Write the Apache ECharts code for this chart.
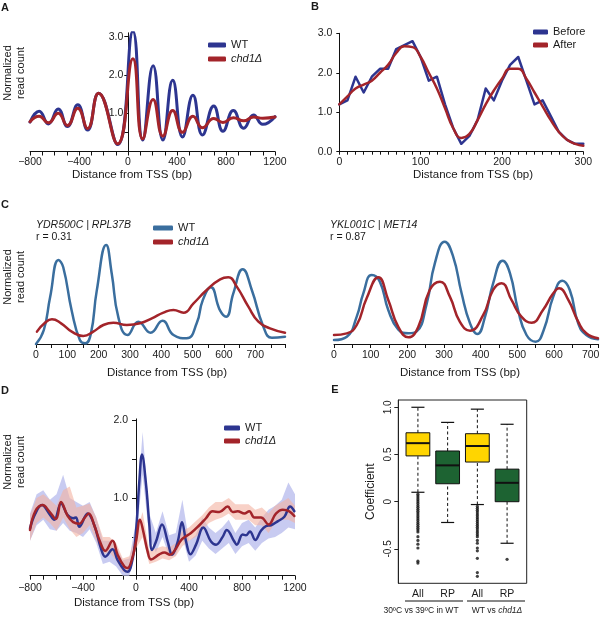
<!DOCTYPE html>
<html><head><meta charset="utf-8">
<script src="https://cdn.jsdelivr.net/npm/echarts@6/dist/echarts.min.js"></script>
<style>html,body{margin:0;padding:0;background:#fff}#c{width:600px;height:618px}</style>
</head><body><div id="c"></div>
<script>
// ---------- Panel A ----------
const aX    = [-800,-725,-650,-570,-495,-410,-330,-240,-85,40,120,205,285,365,445,530,608,700,775,860,945,1025,1100,1200];
const aWT   = [0.77,1.05,0.72,1.11,0.65,1.22,0.56,1.52,0.18,3.14,0.3,2.24,0.3,1.86,0.38,1.47,0.43,1.19,0.53,1.07,0.61,0.95,0.71,0.91];
const aChd1 = [0.78,0.92,0.75,1.0,0.68,1.13,0.6,1.52,0.2,2.42,0.33,1.36,0.4,1.07,0.5,0.92,0.62,0.86,0.76,0.88,0.8,0.9,0.87,0.9];
const aXLabels = [-800,-400,0,400,800,1200];
const aYLabels = [1,2,3];
const aYTicks = [0.5,1,2,3];

// ---------- Panel B ----------
const bX      = [0,10,20,30,40,50,60,70,80,90,100,110,120,130,140,150,160,170,180,190,200,210,220,230,240,250,260,270,280,290,300];
const bBefore = [1.2,1.3,1.9,1.5,1.9,2.1,2.1,2.6,2.7,2.8,2.4,1.8,1.9,1.2,0.6,0.2,0.4,0.8,1.6,1.3,1.8,2.2,2.4,1.8,1.2,1.3,0.9,0.5,0.3,0.2,0.2];
const bAfter  = [1.2,1.4,1.6,1.7,1.8,2.0,2.2,2.5,2.67,2.65,2.4,2.0,1.6,1.1,0.6,0.35,0.45,0.8,1.2,1.55,1.85,2.1,2.1,1.85,1.5,1.15,0.8,0.5,0.3,0.2,0.15];
const bXLabels = [0,100,200,300];
const bYLabels = [0,1,2,3];

// ---------- Panel C (left: YDR500C | RPL37B) ----------
const cLWTX = [0,25,45,72,87,114,140,157,175,194,224,242,263,292,327,366,404,439,481,513,532,558,588,607,630,660,689,726,753,795];
const cLWT  = [0,4.2,14,25.2,23,10,1.2,0.2,3,16,29.7,21,8,2.7,6.7,3.4,7,2.7,1.7,6.2,13,17,10,8.2,15.2,22.4,16.2,5.2,1.9,2.2];
const cLChX = [3,27,51,80,114,151,183,215,247,290,332,370,407,439,471,503,545,588,614,641,678,710,747,795];
const cLCh  = [3.7,6.2,7.4,6.2,3.7,2.4,3.7,5.7,6.4,5.7,6.2,7.7,9.4,10.2,9.4,12.2,16.2,19.4,20,17.2,11.2,6.7,4.7,3.4];
const cXLabels = [0,100,200,300,400,500,600,700];

// ---------- Panel C (right: YKL001C | MET14) ----------
const cRWTX = [0,35,62,80,103,125,148,175,203,225,253,275,302,325,348,371,391,412,434,460,480,502,525,550,572,598,623,643,666,688,720];
const cRWT  = [1.2,2.2,8.2,15.2,20.7,18.7,10.2,4.4,3.2,3.7,12.2,24.2,30.7,26.2,15.2,6.2,3,8.2,18.2,25,21.2,10.2,2.7,0.7,4.2,14.2,19,16.2,6.2,2.7,1.4];
const cRChX = [0,35,62,89,121,148,175,203,230,261,289,316,343,371,407,434,457,484,511,539,570,598,614,639,666,688,720];
const cRCh  = [2.7,3.2,5.7,13.7,20,13.2,5.2,2,5.2,16.2,18.7,14.2,6.7,4,8.7,16.2,18.2,13.2,8.2,6.4,10.2,15.2,16.7,13.2,6.7,3.2,1.7];

// ---------- Panel D ----------
const dWTX = [-800,-760,-710,-655,-617,-566,-516,-474,-453,-428,-365,-315,-264,-232,-177,-139,-88,-63,-25,0,25,45,76,101,121,151,197,239,272,315,347,378,410,453,508,566,604,654,685,742,760,805,830,860,900,943,981,1019,1069,1120,1163,1195];
const dWT  = [0.61,0.8,0.91,0.8,0.72,0.93,0.78,0.74,0.75,0.63,0.8,0.65,0.35,0.245,0.34,0.2,0.07,0.05,0.22,0.57,1.21,1.56,1.17,0.65,0.33,0.44,0.66,0.44,0.27,0.44,0.69,0.44,0.275,0.4,0.62,0.44,0.4,0.5,0.59,0.44,0.4,0.53,0.52,0.57,0.46,0.58,0.64,0.65,0.7,0.76,0.89,0.83];
const dChX = [-800,-760,-704,-655,-604,-566,-516,-474,-428,-390,-357,-315,-272,-232,-177,-139,-88,-63,-25,0,30,55,88,113,176,214,257,290,347,415,478,528,578,629,692,730,767,818,855,893,943,1001,1056,1107,1157,1195];
const dCh  = [0.59,0.83,0.91,0.83,0.73,0.95,0.77,0.69,0.67,0.74,0.8,0.65,0.44,0.32,0.45,0.27,0.12,0.1,0.245,0.44,0.72,0.57,0.31,0.21,0.275,0.3,0.27,0.32,0.47,0.55,0.65,0.74,0.83,0.82,0.89,0.82,0.83,0.8,0.83,0.75,0.75,0.66,0.8,0.85,0.83,0.77];
const dBandX = [-800,-750,-700,-650,-600,-550,-500,-450,-400,-350,-300,-250,-200,-150,-100,-50,0,50,100,150,200,250,300,350,400,450,500,550,600,650,700,750,800,850,900,950,1000,1050,1100,1150,1200];
const dWTLo = [0.45,0.65,0.72,0.6,0.58,0.68,0.58,0.55,0.5,0.6,0.42,0.15,0.18,0.12,0.0,0.0,0.45,1.3,0.5,0.3,0.5,0.25,0.26,0.5,0.18,0.26,0.45,0.35,0.28,0.35,0.42,0.28,0.38,0.42,0.32,0.42,0.48,0.5,0.55,0.62,0.6];
const dWTHi = [0.8,1.05,1.1,0.98,1.05,1.3,1.0,0.95,0.9,0.95,0.75,0.45,0.45,0.38,0.2,0.22,0.7,1.85,0.8,0.55,0.83,0.52,0.55,0.98,0.45,0.52,0.75,0.62,0.55,0.62,0.72,0.55,0.68,0.72,0.62,0.75,0.85,0.9,0.98,1.2,1.05];
const dChLo = [0.45,0.68,0.75,0.68,0.58,0.75,0.6,0.5,0.55,0.65,0.45,0.28,0.3,0.2,0.05,0.05,0.35,0.5,0.15,0.18,0.22,0.2,0.25,0.38,0.45,0.5,0.58,0.68,0.72,0.75,0.8,0.72,0.72,0.72,0.65,0.65,0.55,0.68,0.72,0.72,0.68];
const dChHi = [0.78,1.0,1.05,0.98,0.9,1.1,1.15,0.88,0.9,0.93,0.75,0.5,0.5,0.42,0.22,0.25,0.55,0.82,0.32,0.35,0.38,0.36,0.42,0.58,0.62,0.7,0.78,0.88,0.95,0.95,1.0,0.92,0.92,0.92,0.85,0.88,0.8,0.9,0.95,1.0,0.9];
const dYLabels = [1,2];
const dYTicks = [0.5,1,1.5,2];

// ---------- Panel E ----------
const eCats  = ['All','RP','All','RP'];
const eLow   = [0.10,-0.22,-0.03,-0.44];
const eQ1    = [0.485,0.19,0.42,0.0];
const eMed   = [0.62,0.385,0.59,0.2];
const eQ3    = [0.73,0.537,0.72,0.345];
const eHigh  = [1.0,0.84,0.98,0.82];
const eOut1  = [0.08,0.06,0.04,0.02,0.0,-0.02,-0.04,-0.06,-0.08,-0.1,-0.12,-0.14,-0.16,-0.18,-0.2,-0.22,-0.24,-0.26,-0.28,-0.3,-0.32,-0.37,-0.41,-0.45,-0.49,-0.63,-0.65];
const eOut3  = [-0.05,-0.07,-0.09,-0.11,-0.13,-0.15,-0.17,-0.19,-0.21,-0.23,-0.25,-0.27,-0.29,-0.31,-0.33,-0.35,-0.37,-0.41,-0.44,-0.49,-0.52,-0.6,-0.75,-0.79];
const eOut4  = [-0.61];
const eYLabels = [-0.5,0,0.5,1];
const eGroups = ['30ºC vs 39ºC in WT','WT vs {i|chd1Δ}'];

// ---------- styles ----------
const FONT = '"Liberation Sans", Arial, Helvetica, sans-serif';
const NAVY = '#2D3590', RED = '#A3242A', STEEL = '#3A6E9E';
const TXT = '#1a1a1a';
const boxFill = {All:'#FFD500', RP:'#1D6332'};

const zip = (xs, ys) => xs.map((x,i)=>[x, ys[i]]);
const minus = v => (v < 0 ? '\u2212' + (-v) : String(v));
const legendFmt = n => { const s = n.split('|')[0]; return s.indexOf('chd1') === 0 ? '{i|' + s + '}' : s; };

function legend(names, left, top, iw, gap) {
  return {
    data: names, left: left, top: top, orient: 'vertical', icon: 'roundRect',
    itemWidth: iw, itemHeight: 5, itemGap: gap, selectedMode: false, padding: 0,
    formatter: legendFmt,
    textStyle: {fontSize: 11, fontFamily: FONT, color: TXT, rich: {i: {fontStyle: 'italic', fontSize: 11, fontFamily: FONT, color: TXT}}}
  };
}
const axLine = {show: true, onZero: false, lineStyle: {color: '#111', width: 1}};
function xAx(idx, min, max, interval, labels, fmt, margin, tickLen) {
  return {type: 'value', gridIndex: idx, min: min, max: max, interval: interval,
    axisLine: axLine, splitLine: {show: false},
    axisTick: {show: true, length: tickLen, lineStyle: {color: '#111'}},
    axisLabel: {customValues: labels, formatter: fmt, margin: margin, fontSize: 10.5, fontFamily: FONT, color: TXT}};
}
function yAx(idx, min, max, ticks, labels, fmt, margin, tickLen, offset) {
  return {type: 'value', gridIndex: idx, min: min, max: max, position: 'left', offset: offset,
    axisLine: axLine, splitLine: {show: false},
    axisTick: {show: true, length: tickLen, customValues: ticks, lineStyle: {color: '#111'}},
    axisLabel: {customValues: labels, formatter: fmt, margin: margin, fontSize: 10.5, fontFamily: FONT, color: TXT}};
}
function lineS(name, xi, data, color, width, smooth, z) {
  return {name: name, type: 'line', xAxisIndex: xi, yAxisIndex: xi, data: data, color: color,
    showSymbol: false, symbol: 'none', smooth: smooth, z: z || 3,
    lineStyle: {color: color, width: width, cap: 'round', join: 'round'}, itemStyle: {color: color}};
}
// shaded band between lo and hi, drawn through the axis scales
function bandS(lo, hi, color, opacity) {
  return {type: 'custom', xAxisIndex: 4, yAxisIndex: 4, z: 1, silent: true,
    data: dBandX.map((x,i)=>[x, lo[i], hi[i]]), encode: {x: 0, y: [1,2]},
    renderItem: function (params, api) {
      if (params.dataIndex !== 0) return null;
      const pts = [];
      for (let i = 0; i < dBandX.length; i++) pts.push(api.coord([dBandX[i], hi[i]]));
      for (let i = dBandX.length - 1; i >= 0; i--) pts.push(api.coord([dBandX[i], lo[i]]));
      return {type: 'polygon', shape: {points: pts}, style: {fill: color, opacity: opacity}};
    }};
}
function txt(text, x, y, size, opts) {
  return Object.assign({type: 'text', x: x, y: y, silent: true,
    style: Object.assign({text: text, fontSize: size, fontFamily: FONT, fill: TXT,
      align: 'center', verticalAlign: 'middle', textAlign: 'center', textVerticalAlign: 'middle'}, (opts && opts.style) || {})},
    (opts && opts.el) || {});
}
const f1 = v => v.toFixed(1);

const chart = echarts.init(document.getElementById('c'), null, {renderer: 'canvas'});
const option = {
  animation: false,
  textStyle: {fontFamily: FONT},
  grid: [
    {left: 30, top: 32.8, width: 245, height: 118.7, containLabel: false, outerBoundsMode: 'none'},
    {left: 339.3, top: 33.3, width: 244, height: 118.4, containLabel: false, outerBoundsMode: 'none'},
    {left: 36, top: 237.3, width: 249, height: 106.7, containLabel: false, outerBoundsMode: 'none'},
    {left: 334, top: 237.3, width: 264, height: 106.7, containLabel: false, outerBoundsMode: 'none'},
    {left: 30, top: 418.9, width: 265, height: 156.8, containLabel: false, outerBoundsMode: 'none'},
    {left: 398.3, top: 400, width: 128.4, height: 183.3, containLabel: false, outerBoundsMode: 'none',
     show: true, borderColor: '#222', borderWidth: 1, backgroundColor: 'transparent'}
  ],
  xAxis: [
    xAx(0, -800, 1200, 100, aXLabels, minus, 5, 4),
    xAx(1, 0, 300, 10, bXLabels, v => String(v), 5, 3),
    xAx(2, 0, 795, 50, cXLabels, v => String(v), 6, 4),
    xAx(3, 0, 720, 50, cXLabels, v => String(v), 6, 4),
    xAx(4, -800, 1200, 100, aXLabels, minus, 7, 4),
    {type: 'value', gridIndex: 5, min: 0.34, max: 4.66, axisLine: {show: false}, axisTick: {show: false}, splitLine: {show: false},
     axisLabel: {customValues: [1,2,3,4], formatter: v => eCats[Math.round(v)-1], margin: 5, fontSize: 10.5, fontFamily: FONT, color: TXT}}
  ],
  yAxis: [
    yAx(0, 0, 3.1, aYTicks, aYLabels, f1, 5, 4, -98.3),
    yAx(1, 0, 3, bYLabels, bYLabels, f1, 7, 3, 0),
    {type: 'value', gridIndex: 2, min: 0, max: 32, show: false},
    {type: 'value', gridIndex: 3, min: 0, max: 32, show: false},
    yAx(4, 0, 2.02, dYTicks, dYLabels, f1, 8, 4, -106),
    {type: 'value', gridIndex: 5, min: -0.864, max: 1.077, splitLine: {show: false},
     axisLine: {show: true, lineStyle: {color: '#222', width: 1}},
     axisTick: {show: true, length: 4, customValues: eYLabels, lineStyle: {color: '#222'}},
     axisLabel: {customValues: eYLabels, rotate: 90, margin: 5, fontSize: 10, fontFamily: FONT, color: TXT,
       formatter: v => (v === 0 ? '0' : v.toFixed(1))},
     name: 'Coefficient', nameLocation: 'middle', nameRotate: 90, nameGap: 22, nameMoveOverlap: false,
     nameTextStyle: {fontSize: 12, fontFamily: FONT, color: TXT}}
  ],
  legend: [
    legend(['WT|A','chd1Δ|A'], 208, 39.5, 18, 3),
    legend(['Before','After'], 533, 26.5, 15, 2),
    legend(['WT|C','chd1Δ|C'], 153, 222.5, 20, 3),
    legend(['WT|D','chd1Δ|D'], 224, 422.5, 16, 2)
  ],
  series: [
    lineS('WT|A', 0, zip(aX, aWT), NAVY, 3, 0.5),
    lineS('chd1Δ|A', 0, zip(aX, aChd1), RED, 3, 0.5, 4),
    lineS('Before', 1, zip(bX, bBefore), NAVY, 2.5, false),
    lineS('After', 1, zip(bX, bAfter), RED, 2.5, 0.5, 4),
    lineS('WT|C', 2, zip(cLWTX, cLWT), STEEL, 2.5, 0.5),
    lineS('chd1Δ|C', 2, zip(cLChX, cLCh), RED, 2.5, 0.5, 4),
    lineS('WT|C2', 3, zip(cRWTX, cRWT), STEEL, 2.5, 0.5),
    lineS('chd1Δ|C2', 3, zip(cRChX, cRCh), RED, 2.5, 0.5, 4),
    bandS(dWTLo, dWTHi, '#BEC2EE', 0.85),
    bandS(dChLo, dChHi, '#F4B3A2', 0.6),
    lineS('WT|D', 4, zip(dWTX, dWT), NAVY, 2.5, 0.4),
    lineS('chd1Δ|D', 4, zip(dChX, dCh), RED, 2.5, 0.4, 4),
    {type: 'custom', xAxisIndex: 5, yAxisIndex: 5,
     data: eCats.map((c,i)=>[i+1, eLow[i], eQ1[i], eMed[i], eQ3[i], eHigh[i]]),
     encode: {x: 0, y: [1,2,3,4,5]},
     renderItem: function (params, api) {
       const x = api.value(0);
       const pMin = api.coord([x, api.value(1)]), pQ1 = api.coord([x, api.value(2)]), pMed = api.coord([x, api.value(3)]),
             pQ3 = api.coord([x, api.value(4)]), pMax = api.coord([x, api.value(5)]);
       const half = api.size([0.8, 0])[0] / 2, cap = half * 0.55;
       const fill = boxFill[eCats[params.dataIndex]];
       const dash = {stroke: '#111', lineWidth: 1, lineDash: [3, 2.5]};
       const solid = {stroke: '#111', lineWidth: 1.2};
       return {type: 'group', children: [
         {type: 'line', shape: {x1: pMin[0], y1: pMin[1], x2: pQ1[0], y2: pQ1[1]}, style: dash},
         {type: 'line', shape: {x1: pQ3[0], y1: pQ3[1], x2: pMax[0], y2: pMax[1]}, style: dash},
         {type: 'line', shape: {x1: pMin[0]-cap, y1: pMin[1], x2: pMin[0]+cap, y2: pMin[1]}, style: solid},
         {type: 'line', shape: {x1: pMax[0]-cap, y1: pMax[1], x2: pMax[0]+cap, y2: pMax[1]}, style: solid},
         {type: 'rect', shape: {x: pQ3[0]-half, y: pQ3[1], width: half*2, height: pQ1[1]-pQ3[1]}, style: {fill: fill, stroke: '#111', lineWidth: 1}},
         {type: 'line', shape: {x1: pMed[0]-half, y1: pMed[1], x2: pMed[0]+half, y2: pMed[1]}, style: {stroke: '#111', lineWidth: 2}}
       ]};
     }},
    {type: 'scatter', xAxisIndex: 5, yAxisIndex: 5, symbol: 'circle', symbolSize: 3.2, itemStyle: {color: '#111'}, z: 5,
     data: [].concat(eOut1.map(v=>[1,v]), eOut3.map(v=>[3,v]), eOut4.map(v=>[4,v]))}
  ],
  graphic: [
    txt('A', 5, 8, 11, {style: {fontWeight: 'bold'}}),
    txt('B', 315, 7, 11, {style: {fontWeight: 'bold'}}),
    txt('C', 5, 205, 11, {style: {fontWeight: 'bold'}}),
    txt('D', 5, 391, 11, {style: {fontWeight: 'bold'}}),
    txt('E', 335, 390, 11, {style: {fontWeight: 'bold'}}),
    txt('Normalized\nread count', 14, 73, 11, {el: {rotation: Math.PI/2}, style: {lineHeight: 13}}),
    txt('Normalized\nread count', 14, 277, 11, {el: {rotation: Math.PI/2}, style: {lineHeight: 13}}),
    txt('Normalized\nread count', 14, 462, 11, {el: {rotation: Math.PI/2}, style: {lineHeight: 13}}),
    txt('Distance from TSS (bp)', 132, 175, 11.5),
    txt('Distance from TSS (bp)', 473, 175, 11.5),
    txt('Distance from TSS (bp)', 167, 373, 11.5),
    txt('Distance from TSS (bp)', 460, 373, 11.5),
    txt('Distance from TSS (bp)', 134, 603, 11.5),
    txt('YDR500C | RPL37B', 36, 225, 10.5, {style: {align: 'left', textAlign: 'left', fontStyle: 'italic'}}),
    txt('r = 0.31', 36, 237.5, 10.5, {style: {align: 'left', textAlign: 'left'}}),
    txt('YKL001C | MET14', 330, 225, 10.5, {style: {align: 'left', textAlign: 'left', fontStyle: 'italic'}}),
    txt('r = 0.87', 330, 237.5, 10.5, {style: {align: 'left', textAlign: 'left'}}),
    {type: 'line', shape: {x1: 405, y1: 601, x2: 463, y2: 601}, style: {stroke: '#111', lineWidth: 1}, silent: true},
    {type: 'line', shape: {x1: 467, y1: 601, x2: 525, y2: 601}, style: {stroke: '#111', lineWidth: 1}, silent: true},
    txt(eGroups[0], 421, 611, 8.5),
    txt(eGroups[1], 497, 611, 8.5, {style: {rich: {i: {fontStyle: 'italic', fontSize: 8.5, fontFamily: FONT, fill: TXT}}}})
  ]
};
chart.setOption(option);
</script></body></html>
